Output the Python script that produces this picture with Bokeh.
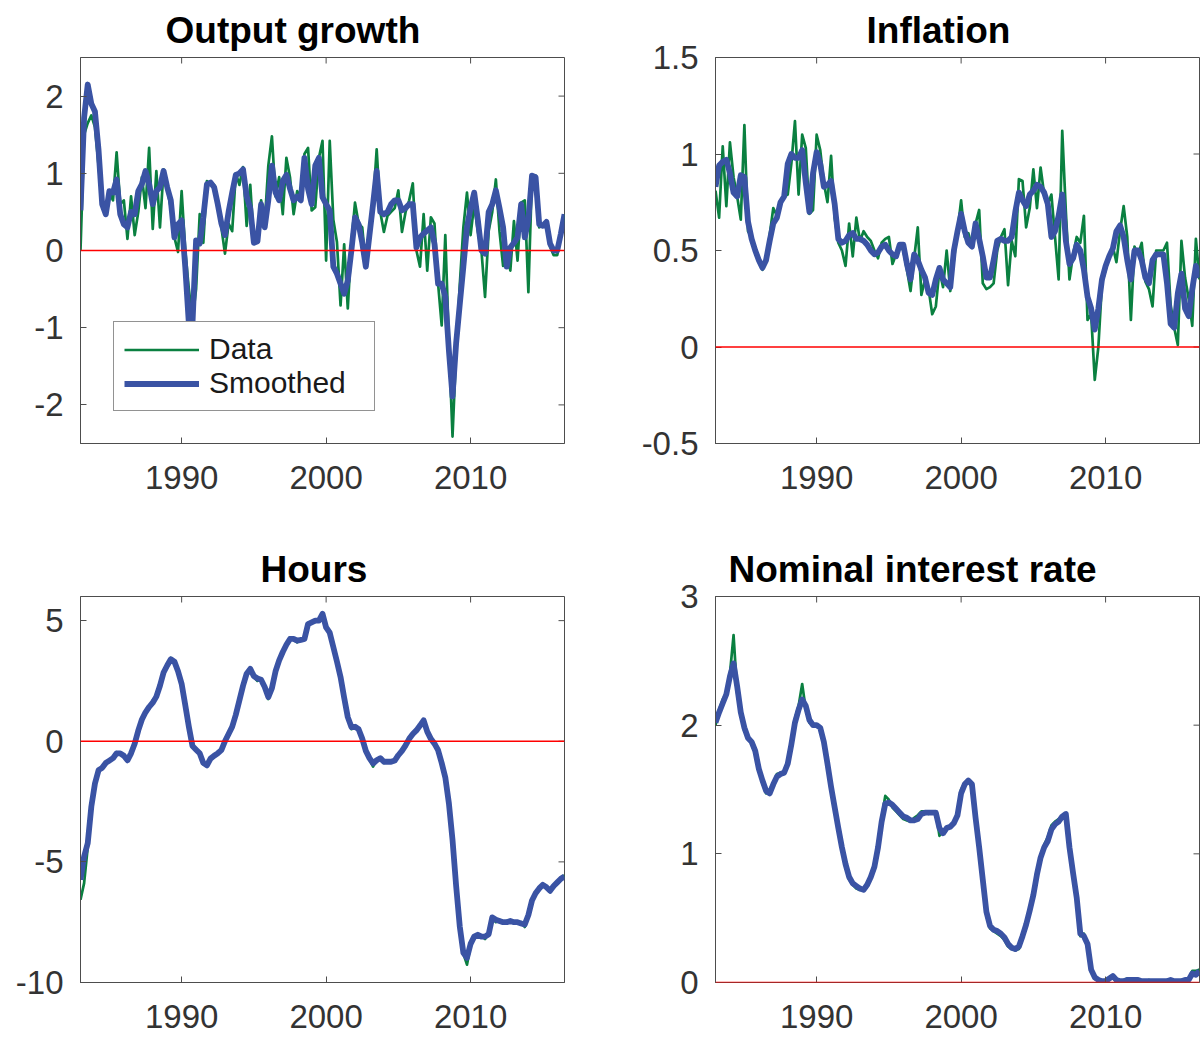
import math
from bokeh.plotting import figure
from bokeh.models import Span, FixedTicker, Legend, LegendItem, Range1d
from bokeh.layouts import column, row
from bokeh.embed import file_html
from bokeh.resources import INLINE

# ---------------- data (quarterly, 1983Q1 .. 2016Q3) ----------------
start_year = 1983
n_quarters = 135
dates = [start_year + q / 4 for q in range(n_quarters)]

x_ticks = [1990, 2000, 2010]
x_tick_labels = ["1990", "2000", "2010"]

titles = ["Output growth", "Inflation", "Hours", "Nominal interest rate"]
legend_labels = ["Data", "Smoothed"]

output_data = [
    0.0, 1.5, 1.65, 1.75, 1.6, 1.1, 0.6, 0.5, 0.75, 0.65,
    1.27, 0.6, 0.65, 0.15, 0.7, 0.2, 0.5, 0.95, 0.55, 1.33,
    0.28, 1.03, 0.3, 1.05, 0.8, 0.55, 0.17, -0.02, 0.77, 0.0,
    -0.5, -0.9, -0.5, 0.47, 0.1, 0.9, 0.85, 0.85, 0.6, 0.3,
    -0.04, 0.35, 0.25, 1.0, 0.85, 1.08, 0.32, 0.85, 0.1, 0.13,
    0.65, 0.35, 1.1, 1.48, 0.7, 0.95, 0.47, 1.2, 0.95, 0.47,
    0.77, 0.68, 1.25, 1.33, 0.52, 0.56, 1.2, 1.42, -0.13, 1.42,
    0.4, 0.11, -0.71, 0.08, -0.75, 0.1, 0.62, 0.35, 0.3, -0.21,
    0.2, 0.6, 1.31, 0.5, 0.24, 0.45, 0.5, 0.55, 0.78, 0.24,
    0.5, 0.65, 0.87, 0.0, -0.21, 0.47, -0.26, 0.43, 0.35, -0.43,
    -0.97, 0.2, -1.2, -2.41, -1.3, -0.45, 0.3, 0.75, 0.2, 0.6,
    0.25, 0.0, -0.6, 0.25, 0.5, 0.92, 0.25, -0.2, 0.0, -0.26,
    0.38, -0.13, 0.62, 0.65, -0.54, 0.97, 0.97, 0.3, 0.32, 0.37,
    0.05, -0.06, -0.06, 0.2, 0.47,
]
output_smooth = [
    0.52, 1.72, 2.15, 1.9, 1.8, 1.3, 0.6, 0.47, 0.77, 0.75,
    0.92, 0.47, 0.34, 0.3, 0.5, 0.47, 0.77, 0.86, 1.03, 0.86,
    0.6, 0.77, 0.82, 1.03, 0.82, 0.65, 0.17, 0.34, 0.39, -0.21,
    -0.95, -0.95, 0.13, 0.09, 0.43, 0.86, 0.88, 0.82, 0.6, 0.35,
    0.2, 0.5, 0.75, 0.98, 1.0, 1.05, 0.7, 0.55, 0.1, 0.12,
    0.6, 0.3, 0.65, 1.1, 0.75, 0.65, 0.9, 0.98, 0.8, 0.65,
    0.7, 0.65, 1.2, 0.8, 0.6, 1.1, 1.2, 0.69, 0.6, 0.52,
    -0.21, -0.3, -0.43, -0.56, -0.39, 0.0, 0.43, 0.34, 0.1, -0.21,
    0.2, 0.6, 1.03, 0.5, 0.47, 0.5, 0.6, 0.65, 0.65, 0.52,
    0.55, 0.6, 0.6, 0.04, 0.17, 0.22, 0.26, 0.3, 0.09, -0.43,
    -0.43, -0.6, -1.3, -1.89, -1.2, -0.7, -0.21, 0.3, 0.55, 0.75,
    0.4, 0.0, -0.04, 0.5, 0.6, 0.78, 0.55, 0.3, -0.21, 0.04,
    0.1, 0.17, 0.6, 0.17, 0.4, 0.97, 0.95, 0.34, 0.32, 0.37,
    0.09, 0.0, 0.0, 0.22, 0.47,
]

inflation_data = [
    0.81, 0.67, 1.04, 0.73, 1.06, 0.88, 0.78, 0.66, 1.15, 0.6,
    0.57, 0.5, 0.44, 0.4, 0.45, 0.58, 0.72, 0.68, 0.76, 0.78,
    0.79, 0.95, 1.17, 0.79, 1.1, 1.03, 0.69, 0.71, 1.1, 1.02,
    0.85, 0.75, 0.99, 0.67, 0.54, 0.5, 0.42, 0.64, 0.47, 0.67,
    0.55, 0.6, 0.57, 0.55, 0.5, 0.46, 0.54, 0.56, 0.57, 0.43,
    0.48, 0.53, 0.5, 0.4, 0.29, 0.46, 0.62, 0.27, 0.35, 0.3,
    0.17, 0.21, 0.4, 0.31, 0.5, 0.29, 0.45, 0.6, 0.76, 0.57,
    0.59, 0.52, 0.64, 0.71, 0.33, 0.3, 0.31, 0.33, 0.5, 0.57,
    0.61, 0.32, 0.55, 0.47, 0.87, 0.86, 0.62, 0.72, 0.92, 0.72,
    0.93, 0.79, 0.74, 0.79, 0.57, 0.35, 1.12, 0.7, 0.35, 0.48,
    0.57, 0.54, 0.68, 0.14, 0.17, -0.17, 0.0, 0.33, 0.4, 0.47,
    0.52, 0.44, 0.6, 0.73, 0.57, 0.14, 0.52, 0.48, 0.54, 0.34,
    0.3, 0.21, 0.5, 0.5, 0.5, 0.54, 0.22, 0.1, 0.01, 0.55,
    0.36, 0.25, 0.11, 0.56, 0.35,
]
inflation_smooth = [
    0.83, 0.94, 0.96, 0.97, 0.9, 0.8, 0.78, 0.89, 0.88, 0.65,
    0.56, 0.5, 0.45, 0.41, 0.45, 0.55, 0.64, 0.67, 0.75, 0.78,
    0.95, 1.0, 0.98, 0.98, 1.02, 0.85, 0.7, 0.9, 1.01, 0.95,
    0.83, 0.84, 0.86, 0.74, 0.56, 0.54, 0.55, 0.58, 0.59, 0.56,
    0.56, 0.55, 0.53, 0.5, 0.48, 0.49, 0.52, 0.53, 0.5, 0.48,
    0.47, 0.53, 0.53, 0.43, 0.35, 0.48, 0.45, 0.4, 0.36, 0.28,
    0.27, 0.35, 0.41, 0.35, 0.33, 0.31, 0.5, 0.6, 0.69, 0.6,
    0.54, 0.52, 0.64, 0.56, 0.47, 0.36, 0.36, 0.45, 0.55, 0.56,
    0.55, 0.55, 0.57, 0.7, 0.8, 0.76, 0.73, 0.79, 0.81, 0.84,
    0.83, 0.8, 0.74, 0.57, 0.6, 0.68, 0.79, 0.55, 0.43, 0.46,
    0.53, 0.5, 0.4, 0.26, 0.2, 0.09, 0.2, 0.35, 0.42, 0.47,
    0.51, 0.6, 0.63, 0.57, 0.45, 0.35, 0.5, 0.5, 0.45, 0.36,
    0.33, 0.45, 0.48, 0.48, 0.48, 0.33, 0.12, 0.1, 0.28, 0.38,
    0.2, 0.16, 0.3, 0.42, 0.36,
]

hours_data = [
    -6.57, -5.88, -4.4, -2.8, -1.7, -1.15, -1.15, -0.85, -0.85, -0.65,
    -0.45, -0.55, -0.6, -0.8, -0.45, -0.1, 0.5, 0.85, 1.25, 1.35,
    1.7, 1.8, 2.35, 2.9, 3.2, 3.45, 3.3, 2.95, 2.35, 1.45,
    0.55, -0.25, -0.3, -0.55, -0.95, -0.95, -0.75, -0.55, -0.5, -0.35,
    0.05, 0.25, 0.65, 1.1, 1.75, 2.3, 2.85, 3.05, 2.65, 2.5,
    2.6, 2.2, 1.75, 2.25, 2.95, 3.4, 3.75, 4.05, 4.3, 4.2,
    4.1, 4.25, 4.2, 4.9, 4.95, 4.95, 5.05, 5.3, 4.8, 4.45,
    3.95, 3.25, 2.6, 1.75, 0.95, 0.5, 0.65, 0.45, 0.05, -0.45,
    -0.75, -1.05, -0.75, -0.7, -0.9, -0.85, -0.8, -0.85, -0.55, -0.35,
    -0.2, 0.1, 0.35, 0.5, 0.6, 0.9, 0.45, 0.05, -0.15, -0.4,
    -0.95, -1.55, -2.6, -4.1, -6.05, -7.7, -8.8, -9.26, -8.45, -8.05,
    -8.1, -8.05, -8.2, -7.95, -7.3, -7.5, -7.4, -7.55, -7.45, -7.5,
    -7.5, -7.55, -7.5, -7.7, -7.15, -6.55, -6.3, -6.05, -6.0, -6.0,
    -6.25, -5.95, -5.85, -5.7, -5.55,
]
hours_smooth = [
    -5.74, -4.78, -4.23, -2.71, -1.75, -1.2, -1.1, -0.9, -0.8, -0.7,
    -0.5, -0.5, -0.6, -0.79, -0.5, -0.1, 0.45, 0.9, 1.2, 1.42,
    1.6, 1.85, 2.3, 2.85, 3.14, 3.4, 3.3, 2.9, 2.38, 1.5,
    0.6, -0.2, -0.35, -0.5, -0.9, -1.0, -0.72, -0.6, -0.5, -0.37,
    0.0, 0.3, 0.6, 1.1, 1.7, 2.3, 2.8, 3.0, 2.7, 2.6,
    2.55, 2.25, 1.83, 2.2, 2.9, 3.35, 3.7, 4.0, 4.24, 4.24,
    4.17, 4.2, 4.24, 4.86, 4.93, 5.0, 5.0, 5.28, 4.72, 4.5,
    3.9, 3.3, 2.66, 1.8, 1.0, 0.59, 0.6, 0.5, 0.11, -0.4,
    -0.7, -0.92, -0.79, -0.7, -0.85, -0.85, -0.85, -0.8, -0.58, -0.4,
    -0.17, 0.1, 0.3, 0.45, 0.65, 0.87, 0.4, 0.1, -0.1, -0.37,
    -0.9, -1.5, -2.58, -4.09, -6.0, -7.67, -8.77, -8.98, -8.4, -8.1,
    -8.02, -8.1, -8.1, -8.0, -7.3, -7.4, -7.45, -7.5, -7.5, -7.45,
    -7.5, -7.5, -7.55, -7.6, -7.2, -6.6, -6.3, -6.1, -5.95, -6.05,
    -6.2, -6.0, -5.85, -5.7, -5.6,
]

rate_data = [
    2.0, 2.12, 2.2, 2.25, 2.4, 2.7, 2.25, 2.08, 1.95, 1.92,
    1.85, 1.78, 1.65, 1.55, 1.47, 1.5, 1.55, 1.62, 1.63, 1.64,
    1.72, 1.88, 2.05, 2.15, 2.32, 2.12, 2.02, 2.0, 2.0, 1.97,
    1.85, 1.68, 1.5, 1.35, 1.18, 1.03, 0.9, 0.8, 0.76, 0.73,
    0.72, 0.73, 0.77, 0.84, 0.92, 1.08, 1.28, 1.45, 1.42, 1.36,
    1.33, 1.3, 1.27, 1.26, 1.25, 1.28, 1.3, 1.33, 1.33, 1.31,
    1.33, 1.33, 1.14, 1.18, 1.19, 1.22, 1.25, 1.32, 1.5, 1.55,
    1.56, 1.52, 1.25, 1.02, 0.78, 0.52, 0.42, 0.4, 0.38, 0.36,
    0.33, 0.28, 0.26, 0.25, 0.26, 0.35, 0.46, 0.58, 0.7, 0.86,
    0.98, 1.07, 1.13, 1.22, 1.25, 1.27, 1.28, 1.3, 1.03, 0.83,
    0.63, 0.36, 0.38, 0.28, 0.08, 0.03, 0.01, 0.0, 0.02, 0.04,
    0.04, 0.01, 0.01, 0.02, 0.03, 0.03, 0.02, 0.01, 0.01, 0.01,
    0.02, 0.01, 0.01, 0.01, 0.01, 0.02, 0.02, 0.01, 0.01, 0.02,
    0.02, 0.03, 0.09, 0.09, 0.1,
]
rate_smooth = [
    2.02, 2.1, 2.17, 2.24, 2.38, 2.48, 2.3, 2.1, 1.98, 1.9,
    1.87, 1.8, 1.66, 1.57, 1.49, 1.47, 1.54, 1.6, 1.62, 1.63,
    1.7, 1.85, 2.02, 2.12, 2.2, 2.15, 2.04, 2.0, 2.0, 1.98,
    1.87, 1.7, 1.52, 1.36, 1.2, 1.05, 0.92, 0.82, 0.77, 0.75,
    0.73, 0.72, 0.76, 0.82, 0.9, 1.05, 1.25, 1.39, 1.4, 1.38,
    1.35, 1.32, 1.29, 1.28, 1.26, 1.26, 1.27, 1.31, 1.32, 1.32,
    1.32, 1.32, 1.2, 1.16, 1.2, 1.21, 1.24, 1.3, 1.47, 1.54,
    1.57, 1.54, 1.28, 1.05, 0.8, 0.55, 0.44, 0.41, 0.4, 0.38,
    0.35, 0.3, 0.27, 0.26, 0.28, 0.36, 0.45, 0.56, 0.68, 0.84,
    0.97, 1.05, 1.1, 1.19, 1.23, 1.25, 1.29, 1.31, 1.05, 0.85,
    0.66, 0.38, 0.36, 0.3, 0.1, 0.04, 0.02, 0.01, 0.01, 0.03,
    0.05, 0.02, 0.01, 0.01, 0.02, 0.02, 0.02, 0.02, 0.01, 0.01,
    0.01, 0.01, 0.01, 0.01, 0.01, 0.01, 0.02, 0.01, 0.01, 0.01,
    0.02, 0.02, 0.07, 0.06, 0.09,
]

y_ticks = [
    [-2, -1, 0, 1, 2],
    [-0.5, 0, 0.5, 1, 1.5],
    [-10, -5, 0, 5],
    [0, 1, 2, 3],
]
y_tick_labels = [
    ["-2", "-1", "0", "1", "2"],
    ["-0.5", "0", "0.5", "1", "1.5"],
    ["-10", "-5", "0", "5"],
    ["0", "1", "2", "3"],
]
y_limits = [(-2.5, 2.5), (-0.5, 1.5), (-10, 6), (0, 3)]

# ---------------- styling ----------------
FONT = "Liberation Sans"
GREEN = "#0a8040"
BLUE = "#3a53a4"
AXIS_COLOR = "#4d4d4d"
LABEL_COLOR = "#333333"
TICK_LEN = 6


def make_panel(k, data, smooth, borders, title_offset, legend=False):
    left, right, top, bottom = borders
    y0, y1 = y_limits[k]
    p = figure(
        frame_width=484, frame_height=386,
        x_range=Range1d(dates[0], dates[-1]),
        y_range=Range1d(y0, y1),
        output_backend="svg", toolbar_location=None,
        min_border_left=left, min_border_right=right,
        min_border_top=top, min_border_bottom=bottom,
    )
    p.background_fill_color = "white"
    p.border_fill_color = "white"
    p.outline_line_color = AXIS_COLOR
    p.outline_line_width = 1
    p.xgrid.visible = False
    p.ygrid.visible = False

    p.title.text = titles[k]
    p.title.align = "left"
    p.title.offset = title_offset
    p.title.text_font = FONT
    p.title.text_font_size = "37px"
    p.title.text_font_style = "bold"
    p.title.text_color = "black"
    p.title.standoff = 13

    xo = {float(t): s for t, s in zip(x_ticks, x_tick_labels)}
    yo = {float(t): s for t, s in zip(y_ticks[k], y_tick_labels[k])}

    for ax, tk, ov in ((p.xaxis[0], x_ticks, xo), (p.yaxis[0], y_ticks[k], yo)):
        ax.ticker = FixedTicker(ticks=tk)
        ax.major_label_overrides = ov
        ax.minor_tick_line_color = None
        ax.major_tick_in = TICK_LEN
        ax.major_tick_out = 0
        ax.axis_line_color = AXIS_COLOR
        ax.major_tick_line_color = AXIS_COLOR
        ax.major_label_text_font = FONT
        ax.major_label_text_font_size = "33px"
        ax.major_label_text_color = LABEL_COLOR
    p.xaxis[0].major_label_standoff = 22
    p.yaxis[0].major_label_standoff = 17

    # inward tick marks on the top and right edges of the box
    p.ray(x=x_ticks, y=[y1] * len(x_ticks), length=TICK_LEN, length_units="screen",
          angle=-math.pi / 2, line_color=AXIS_COLOR, line_width=1)
    p.ray(x=[dates[-1]] * len(y_ticks[k]), y=y_ticks[k], length=TICK_LEN, length_units="screen",
          angle=math.pi, line_color=AXIS_COLOR, line_width=1)

    r1 = p.line(dates, data, line_color=GREEN, line_width=2.7, line_join="round")
    r2 = p.line(dates, smooth, line_color=BLUE, line_width=5.8, line_join="round")

    p.add_layout(Span(location=0, dimension="width", line_color="#ff0000", line_width=1.3))

    if legend:
        lg = Legend(
            items=[LegendItem(label=legend_labels[0], renderers=[r1]),
                   LegendItem(label=legend_labels[1], renderers=[r2])],
            location=(33, 32),
            label_text_font=FONT, label_text_font_size="30px", label_text_color="#1a1a1a",
            glyph_width=75, glyph_height=33, label_height=33, label_width=155,
            label_standoff=10, padding=10, margin=0, spacing=0,
            border_line_color="#262626", border_line_width=1,
            background_fill_color="white", background_fill_alpha=1.0,
        )
        p.add_layout(lg)
    return p


p1 = make_panel(0, output_data, output_smooth, (80, 10, 57, 80), 85, legend=True)
p2 = make_panel(1, inflation_data, inflation_smooth, (141, 4, 57, 80), 151)
p3 = make_panel(2, hours_data, hours_smooth, (80, 10, 73, 57), 180)
p4 = make_panel(3, rate_data, rate_smooth, (141, 4, 73, 57), 13)

layout = column(row(p1, p2), row(p3, p4))

open("out.html", "w").write(file_html(layout, INLINE))
